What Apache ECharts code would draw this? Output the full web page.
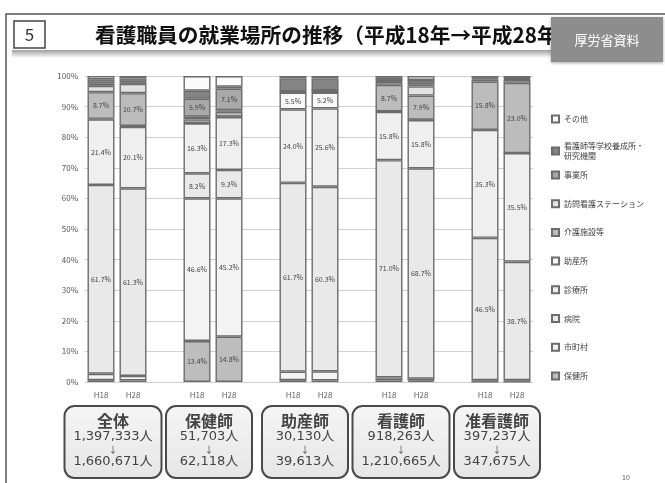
<!DOCTYPE html>
<html>
<head>
<meta charset="utf-8">
<script src="https://cdn.jsdelivr.net/npm/echarts@6/dist/echarts.min.js"></script>
<style>
  html, body { margin: 0; padding: 0; background: #fff; }
  #chart { width: 665px; height: 483px; }
</style>
</head>
<body>
<div id="chart"></div>
<script>
// ---- data -------------------------------------------------------------
const years = ['H18', 'H28'];
const groupNames = ['全体', '保健師', '助産師', '看護師', '准看護師'];
const countsH18 = ['1,397,333人', '51,703人', '30,130人', '918,263人', '397,237人'];
const countsH28 = ['1,660,671人', '62,118人', '39,613人', '1,210,665人', '347,675人'];

// share of workers (%) per workplace, in the order
// 全体H18, 全体H28, 保健師H18, 保健師H28, 助産師H18, 助産師H28, 看護師H18, 看護師H28, 准看護師H18, 准看護師H28
const hokenjo   = [0.6, 0.5, 13.4, 14.8, 0.6, 0.5, 0.5, 0.4, 0.1, 0.1];
const shichoson = [2.1, 1.5, 46.6, 45.2, 2.8, 3.0, 1.0, 0.7, 0.5, 0.5];
const byoin     = [61.7, 61.3, 8.2, 9.3, 61.7, 60.3, 71.0, 68.7, 46.5, 38.7];
const shinryojo = [21.4, 20.1, 16.3, 17.3, 24.0, 25.6, 15.8, 15.8, 35.3, 35.5];
const josanjo   = [0.2, 0.3, 0.1, 0.1, 5.5, 5.2, 0.1, 0.1, 0.0, 0.0];
const kaigo     = [8.7, 10.7, 1.2, 1.6, 0.1, 0.1, 8.7, 7.9, 15.8, 23.0];
const homon     = [2.1, 3.0, 0.9, 0.5, 0.2, 0.5, 1.0, 3.0, 0.7, 1.0];
const jigyosho  = [0.7, 0.6, 5.9, 7.1, 0.1, 0.1, 0.3, 0.7, 0.3, 0.3];
const gakko     = [1.4, 1.2, 2.6, 0.6, 4.2, 3.9, 1.0, 1.4, 0.2, 0.2];
const sonota    = [1.1, 0.8, 4.8, 3.5, 0.8, 0.8, 0.6, 1.3, 0.6, 0.7];

// stacked bottom -> top
const places = [
  { name: '保健所', values: hokenjo, color: '#bdbdbd' },
  { name: '市町村', values: shichoson, color: '#f3f3f3' },
  { name: '病院', values: byoin, color: '#e9e9e9' },
  { name: '診療所', values: shinryojo, color: '#efefef' },
  { name: '助産所', values: josanjo, color: '#f8f8f8' },
  { name: '介護施設等', values: kaigo, color: '#bcbcbc' },
  { name: '訪問看護ステーション', values: homon, color: '#e2e2e2' },
  { name: '事業所', values: jigyosho, color: '#a9a9a9' },
  { name: '看護師等学校養成所・研究機関', values: gakko, color: '#858585' },
  { name: 'その他', values: sonota, color: '#fbfbfb' }
];

// ---- category layout: two years per group, blank slot between groups ----
const categories = [];
const slotOf = [];           // slotOf[g][y] -> category index
groupNames.forEach((g, gi) => {
  if (gi > 0) categories.push('');
  slotOf.push(years.map(y => { categories.push(y); return categories.length - 1; }));
});

function toSlots(values) {
  const out = categories.map(() => '-');
  groupNames.forEach((g, gi) => {
    years.forEach((y, yi) => { out[slotOf[gi][yi]] = values[gi * 2 + yi]; });
  });
  return out;
}

const FONT = '"Noto Sans CJK JP", "Noto Sans", sans-serif';
const NUMFONT = '"DejaVu Sans", "Noto Sans CJK JP", sans-serif';

const series = places.map(p => ({
  name: p.name,
  type: 'bar',
  stack: 'share',
  barWidth: 27,
  data: toSlots(p.values),
  itemStyle: { color: p.color, borderColor: '#6c6c6c', borderWidth: 1.4 },
  label: {
    show: true,
    position: 'inside',
    fontSize: 7,
    color: '#444',
    fontFamily: FONT,
    formatter: q => (typeof q.value === 'number' && q.value >= 5) ? q.value.toFixed(1) + '%' : ''
  },
  emphasis: { disabled: true }
}));

const legendCommon = {
  orient: 'vertical',
  left: 546,
  icon: 'rect',
  itemWidth: 7,
  itemHeight: 7,
  itemGap: 18.7,
  textStyle: { fontSize: 8, color: '#444', fontFamily: FONT, lineHeight: 10 },
  selectedMode: false
};

const chart = echarts.init(document.getElementById('chart'), null, { renderer: 'canvas' });

chart.setOption({
  backgroundColor: '#fff',
  animation: false,
  grid: { left: 85, right: 132, top: 76, bottom: 101 },
  xAxis: {
    type: 'category',
    data: categories,
    axisLine: { show: false },
    axisTick: { show: false },
    axisLabel: { fontSize: 8, color: '#666', margin: 9, fontFamily: FONT }
  },
  yAxis: {
    type: 'value',
    min: 0,
    max: 100,
    interval: 10,
    axisLine: { show: false },
    axisTick: { show: false },
    axisLabel: { formatter: '{value}%', fontSize: 8, color: '#555', margin: 7, fontFamily: FONT },
    splitLine: { lineStyle: { color: '#d0d0d0', width: 1 } }
  },
  legend: [
    Object.assign({}, legendCommon, { top: 109, data: ['その他'] }),
    Object.assign({}, legendCommon, {
      top: 136,
      data: ['看護師等学校養成所・研究機関'],
      formatter: () => '看護師等学校養成所・\n研究機関'
    }),
    Object.assign({}, legendCommon, {
      top: 165,
      data: ['事業所', '訪問看護ステーション', '介護施設等', '助産所', '診療所', '病院', '市町村', '保健所']
    })
  ],
  series: series
});

// ---- slide decoration and summary boxes --------------------------------
const graphics = [
  // slide frame
  { type: 'rect', z: 0, silent: true, shape: { x: 6, y: 14, width: 700, height: 520 },
    style: { fill: 'none', stroke: '#555', lineWidth: 1.5 } },
  // shading under the heading
  { type: 'rect', z: 1, shape: { x: 12, y: 50, width: 540, height: 8 },
    style: { fill: new echarts.graphic.LinearGradient(0, 0, 0, 1, [
      { offset: 0, color: '#a0a0a0' }, { offset: 1, color: '#ffffff' }]) } },
  // slide number box
  { type: 'rect', z: 2, shape: { x: 14, y: 21, width: 31, height: 27 },
    style: { fill: '#fff', stroke: '#444', lineWidth: 1.5 } },
  { type: 'text', z: 3, x: 29.5, y: 34.5,
    style: { text: '5', fontSize: 17, fill: '#333', fontFamily: FONT, align: 'center', verticalAlign: 'middle' } },
  // heading
  { type: 'text', z: 2, x: 95, y: 35,
    style: { text: '看護職員の就業場所の推移（平成18年→平成28年）', fontSize: 20.7, fontWeight: 'bold',
      fill: '#111', fontFamily: FONT, align: 'left', verticalAlign: 'middle' } },
  // source tag
  { type: 'rect', z: 4, shape: { x: 551, y: 17, width: 112, height: 45 },
    style: { fill: '#8d8d8d', shadowBlur: 3, shadowColor: 'rgba(0,0,0,0.35)', shadowOffsetY: 1 } },
  { type: 'text', z: 5, x: 607, y: 40,
    style: { text: '厚労省資料', fontSize: 13, fill: '#fff', fontFamily: FONT, align: 'center', verticalAlign: 'middle' } },
  // page number
  { type: 'text', z: 2, x: 626, y: 477,
    style: { text: '10', fontSize: 7, fill: '#555', fontFamily: FONT, align: 'center', verticalAlign: 'middle' } }
];

groupNames.forEach((g, gi) => {
  const xa = chart.convertToPixel({ xAxisIndex: 0 }, slotOf[gi][0]);
  const xb = chart.convertToPixel({ xAxisIndex: 0 }, slotOf[gi][1]);
  const cx = (xa + xb) / 2 - 4;
  const longest = Math.max(countsH18[gi].length, countsH28[gi].length);
  const w = Math.max(86, longest * 9 + 7);
  const top = 406;
  graphics.push(
    { type: 'rect', z: 5, shape: { x: cx - w / 2, y: top, width: w, height: 72, r: 10 },
      style: { fill: new echarts.graphic.LinearGradient(0, 0, 0, 1, [
        { offset: 0, color: '#f5f5f5' }, { offset: 1, color: '#e6e6e6' }]),
        stroke: '#4a4a4a', lineWidth: 2 } },
    { type: 'text', z: 6, x: cx, y: top + 15,
      style: { text: g, fontSize: 16, fontWeight: 'bold', fill: '#444', fontFamily: FONT,
        align: 'center', verticalAlign: 'middle' } },
    { type: 'text', z: 6, x: cx, y: top + 31,
      style: { text: countsH18[gi], fontSize: 13, fill: '#444', fontFamily: NUMFONT,
        align: 'center', verticalAlign: 'middle' } },
    { type: 'text', z: 6, x: cx, y: top + 44,
      style: { text: '↓', fontSize: 9, fill: '#444', fontFamily: FONT,
        align: 'center', verticalAlign: 'middle' } },
    { type: 'text', z: 6, x: cx, y: top + 56,
      style: { text: countsH28[gi], fontSize: 13, fill: '#444', fontFamily: NUMFONT,
        align: 'center', verticalAlign: 'middle' } }
  );
});

chart.setOption({ graphic: graphics });
</script>
</body>
</html>
